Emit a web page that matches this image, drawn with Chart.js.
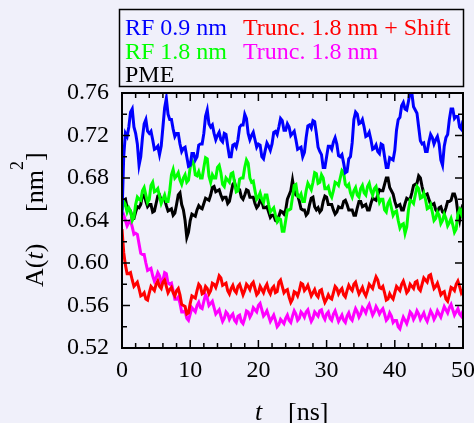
<!DOCTYPE html>
<html><head><meta charset="utf-8">
<script src="https://cdn.jsdelivr.net/npm/chart.js@4/dist/chart.umd.min.js"></script>
<style>html,body{margin:0;padding:0;background:#f0f0fa;}#wrap{width:474px;height:423px;}</style>
</head><body><div id="wrap"><canvas id="c" width="474" height="423"></canvas></div>
<script>
const timeStep = 0.25; // ns
const rf09 = [
0.645,0.700,0.722,0.719,0.728,0.742,0.745,0.728,0.722,0.712,0.692,0.700,0.718,0.731,0.735,0.724,0.722,0.724,0.716,0.707,0.708,0.710,0.702,0.710,0.728,0.746,0.755,0.740,0.735,0.735,0.726,0.719,0.722,0.722,0.712,0.705,0.708,0.709,0.700,0.691,
0.692,0.703,0.703,0.697,0.700,0.711,0.712,0.712,0.722,0.738,0.744,0.731,0.728,0.730,0.722,0.716,0.720,0.723,0.716,0.714,0.722,0.721,0.710,0.700,0.700,0.711,0.712,0.709,0.716,0.728,0.730,0.730,0.740,0.736,0.722,0.716,0.720,0.723,0.716,0.709,
0.712,0.711,0.700,0.698,0.706,0.713,0.710,0.706,0.712,0.723,0.724,0.721,0.728,0.736,0.734,0.725,0.725,0.731,0.728,0.720,0.722,0.724,0.716,0.707,0.708,0.709,0.700,0.704,0.718,0.729,0.730,0.727,0.734,0.733,0.722,0.709,0.705,0.702,0.690,0.690,
0.700,0.710,0.710,0.707,0.714,0.718,0.712,0.701,0.700,0.702,0.694,0.685,0.686,0.698,0.700,0.713,0.735,0.742,0.740,0.731,0.732,0.735,0.728,0.719,0.720,0.723,0.716,0.707,0.708,0.711,0.705,0.703,0.712,0.711,0.700,0.690,0.690,0.699,0.698,0.697,
0.706,0.725,0.735,0.737,0.748,0.751,0.745,0.744,0.752,0.761,0.760,0.747,0.744,0.741,0.728,0.715,0.712,0.713,0.705,0.705,0.714,0.721,0.718,0.712,0.716,0.719,0.712,0.697,0.692,0.710,0.718,0.721,0.735,0.745,0.745,0.736,0.738,0.738,0.728,0.726,0.734];
const truncShift = [
0.632,0.610,0.598,0.590,0.590,0.591,0.584,0.578,0.580,0.582,0.576,0.569,0.570,0.572,0.566,0.565,0.572,0.578,0.576,0.574,0.580,0.583,0.578,0.576,0.582,0.584,0.578,0.572,0.575,0.577,0.572,0.569,0.574,0.576,0.570,0.561,0.560,0.559,0.552,0.553,
0.562,0.569,0.568,0.567,0.574,0.580,0.578,0.571,0.572,0.578,0.576,0.571,0.574,0.581,0.580,0.577,0.582,0.588,0.586,0.579,0.580,0.581,0.574,0.571,0.576,0.579,0.574,0.572,0.578,0.580,0.575,0.570,0.574,0.580,0.578,0.575,0.580,0.582,0.576,0.570,
0.572,0.578,0.575,0.572,0.577,0.580,0.574,0.571,0.576,0.578,0.572,0.573,0.582,0.584,0.578,0.572,0.574,0.575,0.568,0.563,0.566,0.573,0.572,0.569,0.574,0.581,0.580,0.574,0.576,0.579,0.574,0.569,0.572,0.575,0.570,0.568,0.574,0.575,0.568,0.563,
0.566,0.570,0.567,0.566,0.572,0.578,0.576,0.571,0.574,0.576,0.570,0.568,0.574,0.579,0.576,0.574,0.580,0.582,0.576,0.571,0.574,0.577,0.572,0.569,0.574,0.580,0.578,0.576,0.582,0.587,0.584,0.577,0.576,0.578,0.572,0.565,0.566,0.571,0.568,0.566,
0.572,0.578,0.576,0.574,0.580,0.583,0.578,0.572,0.574,0.580,0.578,0.576,0.582,0.583,0.576,0.574,0.580,0.586,0.584,0.582,0.588,0.589,0.582,0.576,0.578,0.581,0.576,0.570,0.572,0.573,0.566,0.564,0.570,0.577,0.576,0.574,0.580,0.583,0.578,0.572,0.575];
const rf18 = [
0.650,0.658,0.655,0.648,0.652,0.649,0.640,0.643,0.655,0.662,0.660,0.659,0.668,0.671,0.664,0.657,0.660,0.673,0.676,0.667,0.668,0.670,0.663,0.656,0.660,0.664,0.658,0.658,0.668,0.683,0.688,0.680,0.682,0.685,0.678,0.674,0.680,0.683,0.676,0.678,
0.690,0.697,0.694,0.683,0.682,0.686,0.680,0.680,0.690,0.699,0.698,0.682,0.676,0.683,0.680,0.680,0.690,0.692,0.685,0.674,0.672,0.680,0.678,0.676,0.684,0.685,0.676,0.667,0.668,0.679,0.680,0.680,0.690,0.697,0.694,0.680,0.676,0.677,0.668,0.660,
0.662,0.666,0.660,0.657,0.664,0.664,0.655,0.648,0.650,0.652,0.645,0.639,0.642,0.641,0.630,0.630,0.640,0.650,0.650,0.651,0.662,0.673,0.674,0.663,0.662,0.665,0.658,0.658,0.668,0.675,0.672,0.669,0.676,0.685,0.684,0.675,0.676,0.683,0.680,0.670,
0.670,0.672,0.665,0.662,0.668,0.676,0.675,0.673,0.680,0.687,0.685,0.674,0.672,0.674,0.666,0.662,0.668,0.671,0.664,0.662,0.670,0.673,0.666,0.664,0.672,0.675,0.668,0.664,0.670,0.672,0.664,0.657,0.660,0.660,0.650,0.648,0.656,0.659,0.652,0.645,
0.648,0.649,0.640,0.633,0.636,0.637,0.628,0.634,0.650,0.659,0.658,0.656,0.664,0.672,0.670,0.661,0.662,0.666,0.660,0.651,0.652,0.655,0.648,0.640,0.642,0.648,0.645,0.637,0.640,0.646,0.642,0.635,0.638,0.642,0.636,0.629,0.632,0.646,0.650,0.646,0.652];
const trunc18 = [
0.642,0.645,0.640,0.635,0.638,0.640,0.634,0.627,0.628,0.627,0.618,0.609,0.608,0.608,0.600,0.593,0.594,0.595,0.588,0.583,0.586,0.591,0.588,0.582,0.584,0.591,0.590,0.581,0.580,0.581,0.574,0.566,0.566,0.568,0.562,0.554,0.554,0.555,0.548,0.546,
0.552,0.558,0.556,0.554,0.560,0.563,0.558,0.557,0.564,0.570,0.567,0.560,0.562,0.564,0.558,0.552,0.554,0.556,0.550,0.545,0.548,0.554,0.552,0.547,0.550,0.552,0.546,0.544,0.550,0.551,0.545,0.543,0.548,0.555,0.554,0.549,0.552,0.558,0.556,0.554,
0.560,0.562,0.556,0.550,0.552,0.555,0.550,0.545,0.548,0.551,0.546,0.540,0.542,0.547,0.545,0.543,0.548,0.551,0.546,0.544,0.550,0.555,0.552,0.546,0.548,0.554,0.552,0.549,0.554,0.556,0.550,0.545,0.548,0.554,0.552,0.550,0.555,0.556,0.550,0.547,
0.552,0.554,0.548,0.546,0.552,0.555,0.550,0.545,0.548,0.551,0.546,0.544,0.550,0.553,0.548,0.546,0.552,0.557,0.554,0.549,0.552,0.558,0.556,0.553,0.558,0.561,0.556,0.551,0.554,0.559,0.556,0.552,0.555,0.557,0.552,0.546,0.548,0.553,0.550,0.544,
0.546,0.546,0.540,0.538,0.544,0.549,0.546,0.543,0.548,0.554,0.552,0.547,0.550,0.555,0.552,0.547,0.550,0.553,0.548,0.545,0.550,0.555,0.552,0.547,0.550,0.555,0.552,0.549,0.554,0.559,0.556,0.553,0.558,0.561,0.556,0.551,0.554,0.557,0.552,0.550,0.555];
const pme = [
0.652,0.659,0.660,0.652,0.650,0.649,0.642,0.642,0.648,0.653,0.652,0.655,0.664,0.664,0.658,0.653,0.655,0.655,0.648,0.649,0.656,0.663,0.664,0.659,0.660,0.660,0.654,0.649,0.650,0.651,0.645,0.647,0.655,0.664,0.666,0.655,0.650,0.640,0.624,0.629,
0.640,0.646,0.645,0.644,0.650,0.654,0.652,0.651,0.656,0.661,0.660,0.659,0.664,0.671,0.672,0.667,0.668,0.669,0.664,0.660,0.662,0.662,0.656,0.658,0.666,0.674,0.676,0.670,0.670,0.669,0.662,0.660,0.664,0.669,0.668,0.662,0.662,0.662,0.656,0.652,
0.654,0.659,0.658,0.652,0.652,0.653,0.648,0.643,0.645,0.645,0.640,0.639,0.644,0.649,0.648,0.646,0.650,0.660,0.664,0.668,0.678,0.668,0.664,0.664,0.658,0.651,0.650,0.650,0.645,0.647,0.655,0.661,0.662,0.653,0.650,0.652,0.648,0.650,0.658,0.663,
0.662,0.655,0.655,0.655,0.650,0.646,0.648,0.653,0.652,0.652,0.658,0.659,0.655,0.650,0.650,0.650,0.645,0.645,0.652,0.658,0.658,0.653,0.654,0.655,0.650,0.650,0.656,0.661,0.660,0.659,0.664,0.669,0.668,0.668,0.674,0.680,0.680,0.671,0.668,0.665,
0.658,0.653,0.654,0.655,0.650,0.650,0.656,0.661,0.660,0.660,0.666,0.673,0.674,0.675,0.682,0.680,0.672,0.665,0.664,0.665,0.660,0.655,0.655,0.656,0.650,0.648,0.652,0.653,0.648,0.647,0.652,0.658,0.658,0.659,0.665,0.665,0.660,0.647,0.640,0.650,0.655];
const xTicks = [0,10,20,30,40,50];
const yTicks = [0.52,0.56,0.60,0.64,0.68,0.72,0.76];
const seriesLabels = ['RF 0.9 nm','Trunc. 1.8 nm + Shift','RF 1.8 nm','Trunc. 1.8 nm','PME'];
const seriesColors = ['#0000ff','#ff0000','#00ff00','#ff00ff','#000000'];
const seriesValues = [rf09, truncShift, rf18, trunc18, pme];

const FONT = '"Liberation Serif", "Times New Roman", serif';
const toXY = arr => arr.map((v,i)=>({x:i*timeStep, y:v}));

function drawSeq(ctx, runs, x0, baseline){
  let x = x0;
  runs.forEach(r=>{ctx.font=r.f; if(r.at!==undefined) x=r.at; ctx.fillText(r.t, x, baseline+(r.dy||0)); x+=ctx.measureText(r.t).width;});
}

const decor = {
  id:'decor',
  beforeDraw(chart){
    const ctx = chart.ctx;
    ctx.save(); ctx.fillStyle='#f0f0fa'; ctx.fillRect(0,0,chart.width,chart.height); ctx.restore();
  },
  afterDraw(chart){
    const {ctx, chartArea:a, scales:{x,y}} = chart;
    ctx.save();
    ctx.strokeStyle='#000'; ctx.lineWidth=2;
    ctx.strokeRect(a.left, a.top, a.right-a.left, a.bottom-a.top);
    ctx.lineWidth=1.5;
    const seg=(x1,y1,x2,y2)=>{ctx.beginPath();ctx.moveTo(x1,y1);ctx.lineTo(x2,y2);ctx.stroke();};
    for(let v=0; v<=50; v+=2){
      const px=x.getPixelForValue(v); const len = xTicks.includes(v)?8:5;
      seg(px,a.bottom,px,a.bottom-len); seg(px,a.top,px,a.top+len);
    }
    for(let k=0;k<=12;k++){
      const v=0.52+k*0.02; const py=y.getPixelForValue(v); const len=(k%2===0)?8:5;
      seg(a.left,py,a.left+len,py); seg(a.right,py,a.right-len,py);
    }
    ctx.lineWidth=1.5;
    ctx.strokeRect(119.5,9.5,344,77);
    ctx.font='24px '+FONT; ctx.textBaseline='alphabetic'; ctx.textAlign='left';
    const pos=[[125,35],[243,35],[125,59],[243,59],[125,82]];
    chart.data.datasets.forEach((d,i)=>{ctx.fillStyle=d.borderColor; ctx.fillText(d.label,pos[i][0],pos[i][1]);});
    ctx.fillStyle='#000';
    drawSeq(ctx,[{t:'t',f:'italic 26px '+FONT},{t:'[ns]',f:'26px '+FONT,at:288}], 255, 420);
    ctx.translate(43,287); ctx.rotate(-Math.PI/2);
    drawSeq(ctx,[{t:'A(',f:'26px '+FONT},{t:'t',f:'italic 26px '+FONT},{t:')',f:'26px '+FONT},{t:'[nm',f:'26px '+FONT,at:75},{t:'2',f:'18px '+FONT,dy:-20},{t:']',f:'26px '+FONT}],0,0);
    ctx.restore();
  }
};

new Chart(document.getElementById('c'),{
  type:'line',
  data:{datasets: seriesValues.map((vals,i)=>({label:seriesLabels[i], data:toXY(vals), borderColor:seriesColors[i], backgroundColor:seriesColors[i], borderWidth:3, pointRadius:0, tension:0, fill:false}))},
  options:{
    responsive:false, animation:false, devicePixelRatio:1,
    layout:{padding:{top:93,right:11,left:0,bottom:0}},
    plugins:{legend:{display:false}, tooltip:{enabled:false}},
    scales:{
      x:{type:'linear',min:0,max:50,
        afterFit:s=>{s.height=75; s.paddingLeft=0; s.paddingRight=0;},
        afterBuildTicks:s=>{s.ticks=xTicks.map(v=>({value:v}));},
        grid:{display:false,drawTicks:false}, border:{display:false},
        ticks:{padding:8,color:'#000',font:{family:FONT,size:24},maxRotation:0,autoSkip:false}},
      y:{min:0.52,max:0.76,
        afterFit:s=>{s.width=122; s.paddingTop=0; s.paddingBottom=0;},
        afterBuildTicks:s=>{s.ticks=yTicks.map(v=>({value:v}));},
        grid:{display:false,drawTicks:false}, border:{display:false},
        ticks:{padding:13,color:'#000',font:{family:FONT,size:24},autoSkip:false,callback:v=>Number(v).toFixed(2)}}
    }
  },
  plugins:[decor]
});
</script></body></html>
